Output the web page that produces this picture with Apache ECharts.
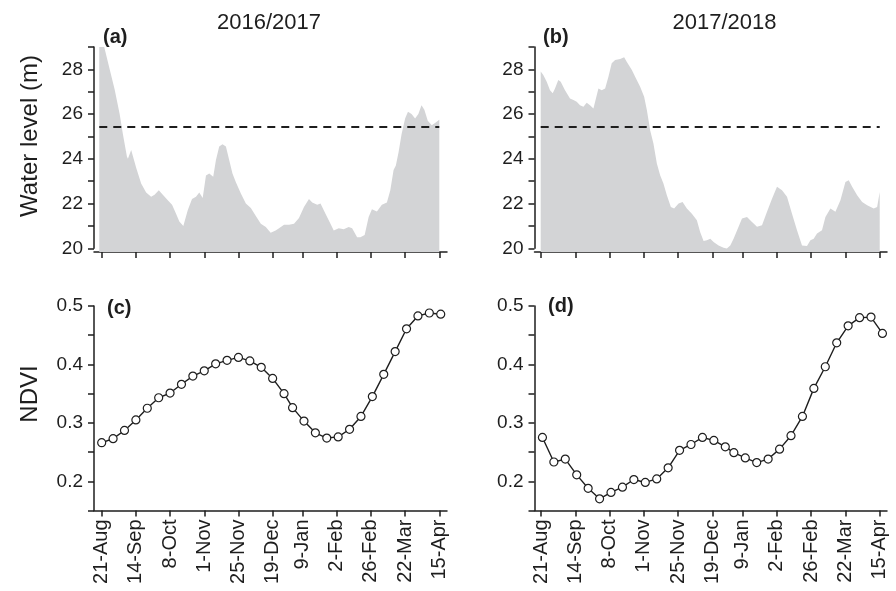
<!DOCTYPE html>
<html><head><meta charset="utf-8">
<script src="https://cdn.jsdelivr.net/npm/echarts@6/dist/echarts.min.js"></script>
<style>html,body{margin:0;padding:0;background:#fff}#chart{width:896px;height:591px}</style>
</head><body><div id="chart"></div>
<script>
// ---------- data ----------
// x values are days counted from the 21-Aug tick
const tickDays = [0, 24, 48, 72, 96, 120, 141, 165, 189, 213, 237];
const tickLabels = ['21-Aug', '14-Sep', '8-Oct', '1-Nov', '25-Nov', '19-Dec', '9-Jan', '2-Feb', '26-Feb', '22-Mar', '15-Apr'];

const waterDays1617 = [-1.7,1.4,5.6,9.1,12.6,14.9,17.7,18.4,20.7,24.2,
  27.7,31.2,34.7,37.1,40.1,42.9,46.4,49.4,52.2,54.5,
  57.3,60.4,63.4,66.2,68.5,70.9,73.2,75.5,78.3,80.2,
  82.5,84.8,87.2,89.5,91.8,94.2,97.7,101.2,104.7,108.2,
  111.7,115.2,118.6,122.1,124.5,128.0,131.5,135.0,138.5,142.0,
  145.5,147.8,151.3,153.6,157.1,160.6,162.9,166.4,169.9,173.4,
  175.8,179.3,181.6,184.6,187.4,189.7,193.2,196.7,200.2,202.6,
  204.9,206.5,208.4,210.5,213.0,215.0,217.5,220.0,222.3,224.5,
  226.5,228.9,231.7,234.0,237.0];
const waterLevel1617 = [29.8,29.1,28.0,27.1,26.0,25.1,24.1,24.0,24.4,23.6,
  22.9,22.5,22.3,22.4,22.6,22.4,22.15,21.95,21.55,21.2,
  21.0,21.7,22.2,22.3,22.5,22.25,23.25,23.35,23.2,23.95,
  24.55,24.65,24.55,23.95,23.35,22.95,22.45,22.0,21.8,21.45,
  21.1,20.95,20.7,20.8,20.9,21.05,21.05,21.1,21.35,21.85,
  22.2,22.05,21.95,22.0,21.55,21.1,20.8,20.9,20.85,20.95,
  20.9,20.5,20.5,20.6,21.4,21.75,21.65,21.95,22.05,22.6,
  23.5,23.7,24.3,25.1,25.8,26.1,26.0,25.8,26.0,26.4,
  26.2,25.7,25.5,25.6,25.75];

const waterDays1718 = [-0.2,1.6,4.0,6.3,8.2,9.8,12.1,13.8,16.8,20.3,
  22.7,25.0,27.3,29.7,32.0,34.3,36.7,40.2,42.5,44.9,
  47.2,49.5,51.9,55.4,58.2,60.0,63.6,65.9,69.4,72.2,
  74.1,76.4,78.7,81.1,83.4,85.7,88.1,90.9,93.2,96.3,
  99.1,102.1,105.6,109.1,111.4,113.8,116.1,118.5,120.8,124.3,
  127.8,130.1,132.5,134.8,138.3,140.7,144.2,147.7,151.2,154.7,
  158.2,161.7,165.2,168.7,172.2,175.7,179.2,182.7,186.2,188.6,
  190.9,193.2,196.7,199.1,202.6,206.1,209.6,213.1,215.4,217.8,
  221.3,224.8,228.3,232.9,235.3,237.1];
const waterLevel1718 = [27.90,27.75,27.45,27.07,26.93,27.15,27.52,27.45,27.07,26.70,
  26.63,26.55,26.40,26.33,26.51,26.40,26.25,27.15,27.07,27.15,
  27.67,28.27,28.42,28.46,28.54,28.34,27.97,27.67,27.22,26.78,
  26.18,25.28,24.69,23.79,23.27,22.90,22.37,21.85,21.78,22.0,
  22.07,21.78,21.55,21.25,20.73,20.33,20.36,20.43,20.28,20.13,
  20.03,19.99,20.13,20.43,20.96,21.33,21.40,21.18,20.96,21.03,
  21.63,22.22,22.75,22.60,22.30,21.55,20.81,20.13,20.10,20.36,
  20.43,20.66,20.81,21.40,21.78,21.63,22.15,22.97,23.04,22.75,
  22.37,22.07,21.93,21.78,21.85,22.52];

const thresholdLevel = 25.45;

const ndviDays1617 = [0,8,16,24,32,40,48,56,64,72,80,88,96,104,112,120,128,134,142,150,158,166,174,182,190,198,206,214,222,230,238];
const ndvi1617 = [0.266,0.273,0.287,0.305,0.325,0.343,0.351,0.366,0.380,0.389,0.401,0.407,0.412,0.406,0.395,0.376,0.350,0.326,0.303,0.283,0.274,0.276,0.289,0.311,0.345,0.383,0.422,0.461,0.483,0.488,0.486];

const ndviDays1718 = [1,9,17,25,33,41,49,57,65,73,81,89,97,105,113,121,129,135,143,151,159,167,175,183,191,199,207,215,223,231,239];
const ndvi1718 = [0.275,0.233,0.238,0.211,0.188,0.170,0.181,0.190,0.203,0.198,0.204,0.223,0.253,0.263,0.275,0.270,0.259,0.249,0.240,0.232,0.238,0.255,0.278,0.311,0.359,0.396,0.437,0.466,0.480,0.481,0.453];

const panelTitles = ['2016/2017', '2017/2018'];
const panelLetters = ['(a)', '(b)', '(c)', '(d)'];
const axisNames = ['Water level (m)', 'NDVI'];

// ---------- layout / style ----------
const FONT = "'Liberation Sans', Arial, Helvetica, sans-serif";
const INK = '#1e1e1e';
const AREA = '#d3d4d6';
const L1 = 94, W1 = 353, L2 = 534.5, W2 = 352.5;
const TOP_A = 47, H_A = 205, H_AXIS = 201.3;
const TOP_C = 306, H_C = 204.5;
const XR1 = [-5.4, 242.4], XR2 = [-4.55, 242.2];

const zip = (a, b) => a.map((v, i) => [v, b[i]]);

function xAxisCfg(gridIndex, range, showLabels, visible) {
  return {
    type: 'value', gridIndex, min: range[0], max: range[1], show: visible,
    axisLine: { show: true, onZero: false, lineStyle: { color: INK, width: 1.5 } },
    axisTick: { show: true, customValues: tickDays, length: 6, inside: false, lineStyle: { color: INK, width: 1.5 } },
    axisLabel: {
      show: showLabels, customValues: tickDays, rotate: 90, fontSize: 20, margin: 9,
      color: INK, fontFamily: FONT,
      formatter: v => { const i = tickDays.indexOf(v); return i >= 0 ? tickLabels[i] : ''; }
    },
    splitLine: { show: false }
  };
}
function waterAxis(gridIndex) {
  return {
    type: 'value', gridIndex, min: 20, max: 29, interval: 1,
    axisLine: { show: true, onZero: false, lineStyle: { color: INK, width: 1.5 } },
    axisTick: { show: true, length: 6, lineStyle: { color: INK, width: 1.5 } },
    axisLabel: { fontSize: 19, margin: 11, color: INK, fontFamily: FONT,
      formatter: v => (Math.round(v) % 2 === 0 ? String(Math.round(v)) : '') },
    splitLine: { show: false }
  };
}
function ndviAxis(gridIndex) {
  return {
    type: 'value', gridIndex, min: 0.15, max: 0.5, interval: 0.05,
    axisLine: { show: true, onZero: false, lineStyle: { color: INK, width: 1.5 } },
    axisTick: { show: true, length: 6, lineStyle: { color: INK, width: 1.5 } },
    axisLabel: { fontSize: 19, margin: 11, color: INK, fontFamily: FONT,
      formatter: v => { const r = Math.round(v * 100); return (r % 10 === 0 && r >= 20) ? (r / 100).toFixed(1) : ''; } },
    splitLine: { show: false }
  };
}
function waterSeries(axisIdx, days, levels) {
  return {
    type: 'line', xAxisIndex: axisIdx, yAxisIndex: axisIdx, data: zip(days, levels),
    symbol: 'none', showSymbol: false, clip: true, silent: true,
    lineStyle: { width: 0 },
    areaStyle: { color: AREA, opacity: 1, origin: 'start' },
    markLine: {
      silent: true, symbol: ['none', 'none'], label: { show: false },
      lineStyle: { color: INK, width: 2, type: [8, 6] },
      data: [[{ coord: [days[0], thresholdLevel] }, { coord: [days[days.length - 1], thresholdLevel] }]]
    }
  };
}
function ndviSeries(axisIdx, days, vals) {
  return {
    type: 'line', xAxisIndex: axisIdx, yAxisIndex: axisIdx, data: zip(days, vals),
    symbol: 'circle', symbolSize: 8, showSymbol: true,
    itemStyle: { color: '#ffffff', borderColor: INK, borderWidth: 1.2 },
    lineStyle: { color: INK, width: 1.4 }, z: 3
  };
}
function txt(text, x, y, size, weight, align, rotation) {
  return {
    type: 'text', x, y, rotation: rotation || 0, silent: true,
    style: { text, font: `${weight} ${size}px ${FONT}`, fill: INK,
      textAlign: align, align: align, textVerticalAlign: 'middle', verticalAlign: 'middle' }
  };
}

const option = {
  animation: false,
  backgroundColor: '#ffffff',
  grid: [
    { left: L1, top: TOP_A, width: W1, height: H_A, outerBoundsMode: 'none' },
    { left: L1, top: TOP_A, width: W1, height: H_AXIS, outerBoundsMode: 'none' },
    { left: L2, top: TOP_A, width: W2, height: H_A, outerBoundsMode: 'none' },
    { left: L2, top: TOP_A, width: W2, height: H_AXIS, outerBoundsMode: 'none' },
    { left: L1, top: TOP_C, width: W1, height: H_C, outerBoundsMode: 'none' },
    { left: L2, top: TOP_C, width: W2, height: H_C, outerBoundsMode: 'none' }
  ],
  xAxis: [
    xAxisCfg(0, XR1, false, true),
    xAxisCfg(1, XR1, false, false),
    xAxisCfg(2, XR2, false, true),
    xAxisCfg(3, XR2, false, false),
    xAxisCfg(4, XR1, true, true),
    xAxisCfg(5, XR2, true, true)
  ],
  yAxis: [
    { type: 'value', gridIndex: 0, min: 19.835, max: 29, show: false, splitLine: { show: false } },
    waterAxis(1),
    { type: 'value', gridIndex: 2, min: 19.835, max: 29, show: false, splitLine: { show: false } },
    waterAxis(3),
    ndviAxis(4),
    ndviAxis(5)
  ],
  series: [
    waterSeries(0, waterDays1617, waterLevel1617),
    waterSeries(2, waterDays1718, waterLevel1718),
    ndviSeries(4, ndviDays1617, ndvi1617),
    ndviSeries(5, ndviDays1718, ndvi1718)
  ],
  graphic: [
    txt(panelTitles[0], 269, 23, 22, 'normal', 'center'),
    txt(panelTitles[1], 724.5, 23, 22, 'normal', 'center'),
    txt(panelLetters[0], 103, 37, 20, 'bold', 'left'),
    txt(panelLetters[1], 543, 37, 20, 'bold', 'left'),
    txt(panelLetters[2], 107, 308, 20, 'bold', 'left'),
    txt(panelLetters[3], 548, 306, 20, 'bold', 'left'),
    txt(axisNames[0], 30, 136, 24, 'normal', 'center', Math.PI / 2),
    txt(axisNames[1], 30, 394, 24, 'normal', 'center', Math.PI / 2)
  ]
};

const chart = echarts.init(document.getElementById('chart'), null, { renderer: 'canvas', devicePixelRatio: 1 });
chart.setOption(option);
</script></body></html>
